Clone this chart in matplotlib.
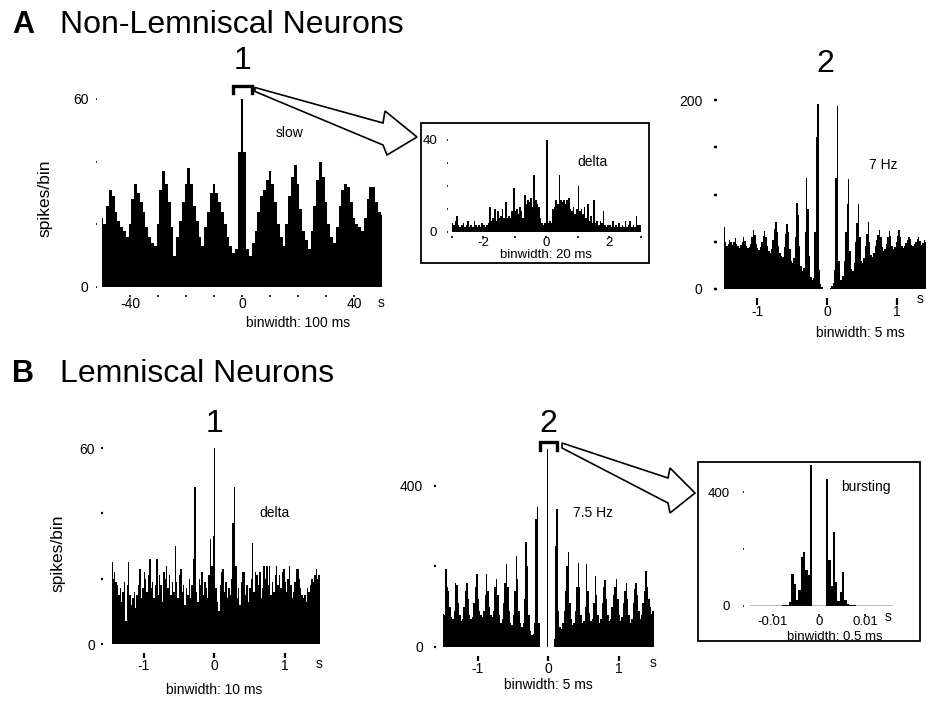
import matplotlib
matplotlib.use('Agg')
import matplotlib.pyplot as plt
import numpy as np
from matplotlib.patches import Polygon, Rectangle
from matplotlib.lines import Line2D

plt.rcParams['font.family'] = ['Liberation Sans', 'DejaVu Sans']

W, H = 926, 705
PT = 0.72  # points per pixel at dpi 100

# ---- data (spikes/bin) ----
# A1: slow, 1 s bins centred on -50..50 s
a1_start, a1_bin = -50.5, 1.0
a1_counts = [22, 20, 26, 31, 29, 24, 21, 19, 18, 16,
             20, 28, 33, 30, 27, 24, 19, 16, 14, 13,
             20, 31, 37, 33, 27, 19, 10, 16, 21, 27,
             33, 38, 33, 26, 21, 16, 13, 19, 24, 30,
             33, 30, 27, 24, 20, 16, 13, 11, 12, 43,
             60,
             43, 12, 10, 14, 18, 24, 29, 31, 34, 37,
             33, 27, 20, 16, 13, 20, 29, 35, 39, 33,
             25, 18, 15, 12, 18, 26, 34, 40, 35, 27,
             20, 16, 14, 19, 26, 31, 33, 32, 27, 22,
             20, 19, 18, 22, 28, 32, 32, 27, 24, 23]

# A inset: delta, -3..3 s
ai_start, ai_bin = -3.0, 0.05
ai_counts = [4, 3, 5, 7, 3, 2, 3, 4, 2, 3,
             5, 2, 3, 2, 5, 3, 2, 3, 2, 4,
             3, 2, 3, 4, 11, 5, 6, 10, 5, 9,
             6, 7, 10, 6, 13, 6, 7, 6, 9, 19,
             9, 10, 8, 11, 9, 6, 16, 12, 14, 13,
             15, 11, 25, 14, 12, 11, 6, 4, 3, 4,
             40, 4, 5, 4, 10, 11, 14, 12, 25, 14,
             13, 14, 12, 14, 15, 10, 9, 11, 8, 10,
             20, 9, 10, 8, 11, 6, 12, 5, 7, 4,
             14, 4, 5, 3, 5, 4, 9, 3, 2, 3,
             3, 2, 5, 2, 3, 2, 4, 2, 3, 2,
             5, 2, 3, 5, 2, 3, 2, 7, 3, 3]

# A2: 7 Hz
a2_start, a2_bin = -1.5, 0.02
a2_counts = [60, 66, 50, 46, 48, 52, 50, 47, 50, 54,
             48, 45, 43, 47, 50, 55, 51, 46, 43, 44,
             48, 55, 62, 57, 48, 43, 41, 44, 50, 56,
             61, 55, 46, 40, 38, 42, 52, 64, 71, 60,
             45, 38, 35, 34, 44, 58, 69, 60, 42, 30,
             27, 33, 55, 91, 78, 45, 24, 19, 22, 60,
             117, 85, 35, 13, 9, 12, 60, 161, 196, 20,
             5, 2, 0, 0, 0, 0, 0, 1, 3, 6,
             20, 117, 194, 30, 10, 9, 14, 30, 60, 90,
             116, 40, 21, 19, 28, 50, 70, 90, 55, 30,
             27, 33, 45, 58, 71, 50, 36, 34, 38, 45,
             52, 57, 62, 55, 44, 40, 42, 48, 55, 61,
             56, 46, 42, 44, 50, 56, 62, 55, 46, 43,
             45, 49, 52, 55, 53, 47, 45, 48, 50, 53,
             55, 51, 47, 49, 52, 50, 48, 51, 49, 50]

# B1: delta
b1_start, b1_bin = -1.46, 0.02
b1_counts = [25, 20, 22, 19, 18, 15, 17, 13, 16, 19,
             7, 18, 25, 15, 12, 14, 16, 11, 15, 18,
             23, 14, 17, 22, 20, 16, 21, 26, 17, 19,
             14, 18, 26, 15, 21, 18, 13, 22, 20, 24,
             17, 21, 15, 19, 16, 30, 19, 14, 21, 23,
             16, 18, 12, 17, 15, 20, 14, 18, 26, 48,
             16, 13, 20, 18, 22, 15, 19, 17, 14, 21,
             32, 24, 33, 60, 17, 13, 10, 18, 22, 23,
             16, 19, 14, 17, 15, 20, 37, 48, 24, 14,
             17, 12, 19, 22, 22, 15, 18, 13, 17, 20,
             31, 16, 22, 21, 18, 22, 14, 17, 24, 20,
             24, 18, 24, 15, 19, 16, 21, 24, 18, 21,
             17, 22, 23, 19, 16, 20, 24, 18, 14, 16,
             19, 23, 23, 20, 17, 15, 14, 15, 13, 17,
             16, 18, 20, 19, 21, 23, 20, 21]

# B2: 7.5 Hz
b2_start, b2_bin = -1.5, 0.02
b2_counts = [83, 80, 195, 150, 140, 100, 75, 70, 90, 159,
             155, 110, 80, 65, 70, 100, 140, 159, 120, 80,
             70, 75, 110, 150, 182, 120, 90, 80, 75, 90,
             130, 182, 140, 100, 80, 75, 90, 150, 170, 130,
             80, 60, 70, 110, 160, 205, 150, 90, 60, 55,
             80, 140, 225, 170, 90, 60, 50, 60, 120, 261,
             200, 80, 40, 30, 33, 60, 318, 348, 60, 0,
             0, 0, 0, 0, 492, 0, 0, 0, 0, 20,
             250, 344, 90, 50, 45, 60, 90, 140, 200, 236,
             110, 70, 55, 60, 90, 150, 209, 150, 80, 60,
             65, 100, 205, 140, 85, 65, 70, 110, 176, 130,
             80, 60, 70, 110, 150, 166, 120, 80, 65, 70,
             100, 130, 150, 170, 120, 80, 65, 75, 110, 140,
             159, 120, 80, 60, 70, 110, 145, 160, 130, 90,
             70, 80, 110, 140, 190, 150, 120, 100, 83, 90]

# B inset: bursting, 0.5 ms bins
bi_start, bi_bin = -0.008, 0.0005
bi_counts = [2, 3, 4, 14, 113, 78, 20, 55, 172, 189, 125, 110, 495,
             0, 0, 0, 0, 0, 0,
             445, 160, 70, 258, 84, 16, 50, 120, 22, 8, 4, 3, 2]

fig = plt.figure(figsize=(W / 100, H / 100), dpi=100)


def px_axes(x0, x1, y0, y1):
    return fig.add_axes([x0 / W, 1 - y1 / H, (x1 - x0) / W, (y1 - y0) / H])


def ftext(x, y, s, **kw):
    kw.setdefault('ha', 'center')
    kw.setdefault('va', 'center')
    kw.setdefault('fontsize', 10)
    fig.text(x / W, 1 - y / H, s, **kw)


def hist(ax, start, width, counts):
    left = start + width * np.arange(len(counts))
    ax.bar(left, counts, width=width, align='edge', color='black', linewidth=0)


def style(ax, xt, xl, yt, yl, xoff, yoff, xlen, ylen, xw, yw, xpad, ypad, fs=10):
    ax.patch.set_alpha(0)
    for s in ax.spines.values():
        s.set_visible(False)
    ax.spines['bottom'].set_position(('outward', xoff * PT))
    ax.spines['left'].set_position(('outward', yoff * PT))
    ax.set_xticks(xt, xl)
    ax.set_yticks(yt, yl)
    ax.tick_params(axis='x', direction='out', length=xlen * PT, width=xw * PT,
                   pad=xpad * PT, labelsize=fs)
    ax.tick_params(axis='y', direction='out', length=ylen * PT, width=yw * PT,
                   pad=ypad * PT, labelsize=fs)


# ---- A1 ----
ax = px_axes(102, 382, 92.7, 287)
hist(ax, a1_start, a1_bin, a1_counts)
ax.set_xlim(-50, 50)
ax.set_ylim(0, 62)
style(ax, [-40, -30, -20, -10, 0, 10, 20, 30, 40],
      ['-40', '', '', '', '0', '', '', '', '40'],
      [0, 20, 40, 60], ['0', '', '', '60'],
      8, 5, 1.5, 1.5, 1.6, 1.6, 1, 7)

# ---- A inset ----
ax = px_axes(451.5, 642.1, 135.4, 232)
hist(ax, ai_start, ai_bin, ai_counts)
ax.set_xlim(-3, 3.05)
ax.set_ylim(0, 42)
style(ax, [-3, -2, -1, 0, 1, 2, 3], ['', '-2', '', '0', '', '2', ''],
      [0, 10, 20, 30, 40], ['0', '', '', '', '40'],
      3.5, 4, 1.5, 1.5, 1.6, 1.6, 0, 9, fs=9.5)

# ---- A2 ----
ax = px_axes(724.1, 932, 95.3, 289)
hist(ax, a2_start, a2_bin, a2_counts)
ax.set_xlim(-1.47, 1.5)
ax.set_ylim(0, 205)
style(ax, [-1, 0, 1], ['-1', '0', '1'],
      [0, 50, 100, 150, 200], ['0', '', '', '', '200'],
      9, 7.5, 7, 3, 2.2, 2.5, 0, 11)

# ---- B1 ----
ax = px_axes(111.8, 319.75, 441.5, 644)
hist(ax, b1_start, b1_bin, b1_counts)
ax.set_xlim(-1.45, 1.5)
ax.set_ylim(0, 62)
style(ax, [-1, 0, 1], ['-1', '0', '1'],
      [0, 20, 40, 60], ['0', '', '', '60'],
      9, 9, 5, 2, 2.2, 2.2, 1, 6)

# ---- B2 ----
ax = px_axes(443, 653.75, 441.7, 647)
hist(ax, b2_start, b2_bin, b2_counts)
ax.set_xlim(-1.49, 1.5)
ax.set_ylim(0, 510)
style(ax, [-1, 0, 1], ['-1', '0', '1'],
      [0, 200, 400], ['0', '', '400'],
      9, 7, 5, 2, 2.2, 2.2, 1, 11)

# ---- B inset ----
ax = px_axes(750, 892.6, 462.1, 606)
ax.axhline(0, color='#aaaaaa', lw=1.2, zorder=0)
hist(ax, bi_start, bi_bin, bi_counts)
ax.set_xlim(-0.015, 0.016)
ax.set_ylim(0, 505)
style(ax, [-0.01, 0, 0.01], ['-0.01', '0', '0.01'],
      [0, 200, 400], ['0', '', '400'],
      8, 6, 1.5, 1.5, 1.6, 1.6, 0.5, 13, fs=9.5)

# ---- inset boxes ----
for x0, y0, x1, y1 in [(421, 123, 649, 263), (698, 462, 920, 641)]:
    fig.add_artist(Rectangle((x0 / W, 1 - y1 / H), (x1 - x0) / W, (y1 - y0) / H,
                             transform=fig.transFigure, fill=False,
                             edgecolor='black', lw=1.3))

# ---- zoom arrows and brackets ----
arrows = [
    [(255, 87.5), (383, 123), (385, 111), (417, 137), (387, 155), (383, 145), (255, 91.5)],
    [(562, 443), (668, 478), (670, 468), (695, 493), (670, 513), (668, 503), (562, 448)],
]
for pts in arrows:
    fig.add_artist(Polygon([(x / W, 1 - y / H) for x, y in pts], closed=True,
                           transform=fig.transFigure, facecolor='white',
                           edgecolor='black', lw=1.2))
brackets = [[(233, 93), (233, 86), (252, 86), (252, 93)],
            [(540, 450), (540, 442), (557, 442), (557, 450)]]
for pts in brackets:
    fig.add_artist(Line2D([x / W for x, _ in pts], [1 - y / H for _, y in pts],
                          transform=fig.transFigure, color='black', lw=2.4,
                          solid_joinstyle='miter'))

# ---- headings ----
ftext(23, 33, 'A', fontsize=22, fontweight='bold', va='baseline')
ftext(60, 33, 'Non-Lemniscal Neurons', fontsize=23, ha='left', va='baseline')
ftext(23, 382, 'B', fontsize=22, fontweight='bold', va='baseline')
ftext(60, 382, 'Lemniscal Neurons', fontsize=23, ha='left', va='baseline')
ftext(243, 69, '1', fontsize=23, va='baseline')
ftext(825, 72, '2', fontsize=23, va='baseline')
ftext(214, 432, '1', fontsize=23, va='baseline')
ftext(548, 432, '2', fontsize=23, va='baseline')

# ---- labels ----
ftext(45, 198, 'spikes/bin', fontsize=12.5, rotation=90)
ftext(58, 553, 'spikes/bin', fontsize=12.5, rotation=90)

ftext(290, 133, 'slow')
ftext(298, 323, 'binwidth: 100 ms')
ftext(381, 303, 's')
ftext(593, 162, 'delta')
ftext(546, 254.5, 'binwidth: 20 ms', fontsize=9.5)
ftext(883, 165, '7 Hz')
ftext(860, 333, 'binwidth: 5 ms')
ftext(920, 299, 's')
ftext(275, 513, 'delta')
ftext(214, 690, 'binwidth: 10 ms')
ftext(319, 664, 's')
ftext(593, 513, '7.5 Hz')
ftext(548, 685, 'binwidth: 5 ms')
ftext(653, 663, 's')
ftext(866, 487, 'bursting')
ftext(835, 637, 'binwidth: 0.5 ms', fontsize=9.5)
ftext(888, 617, 's')

fig.savefig('out.png', dpi=100)
